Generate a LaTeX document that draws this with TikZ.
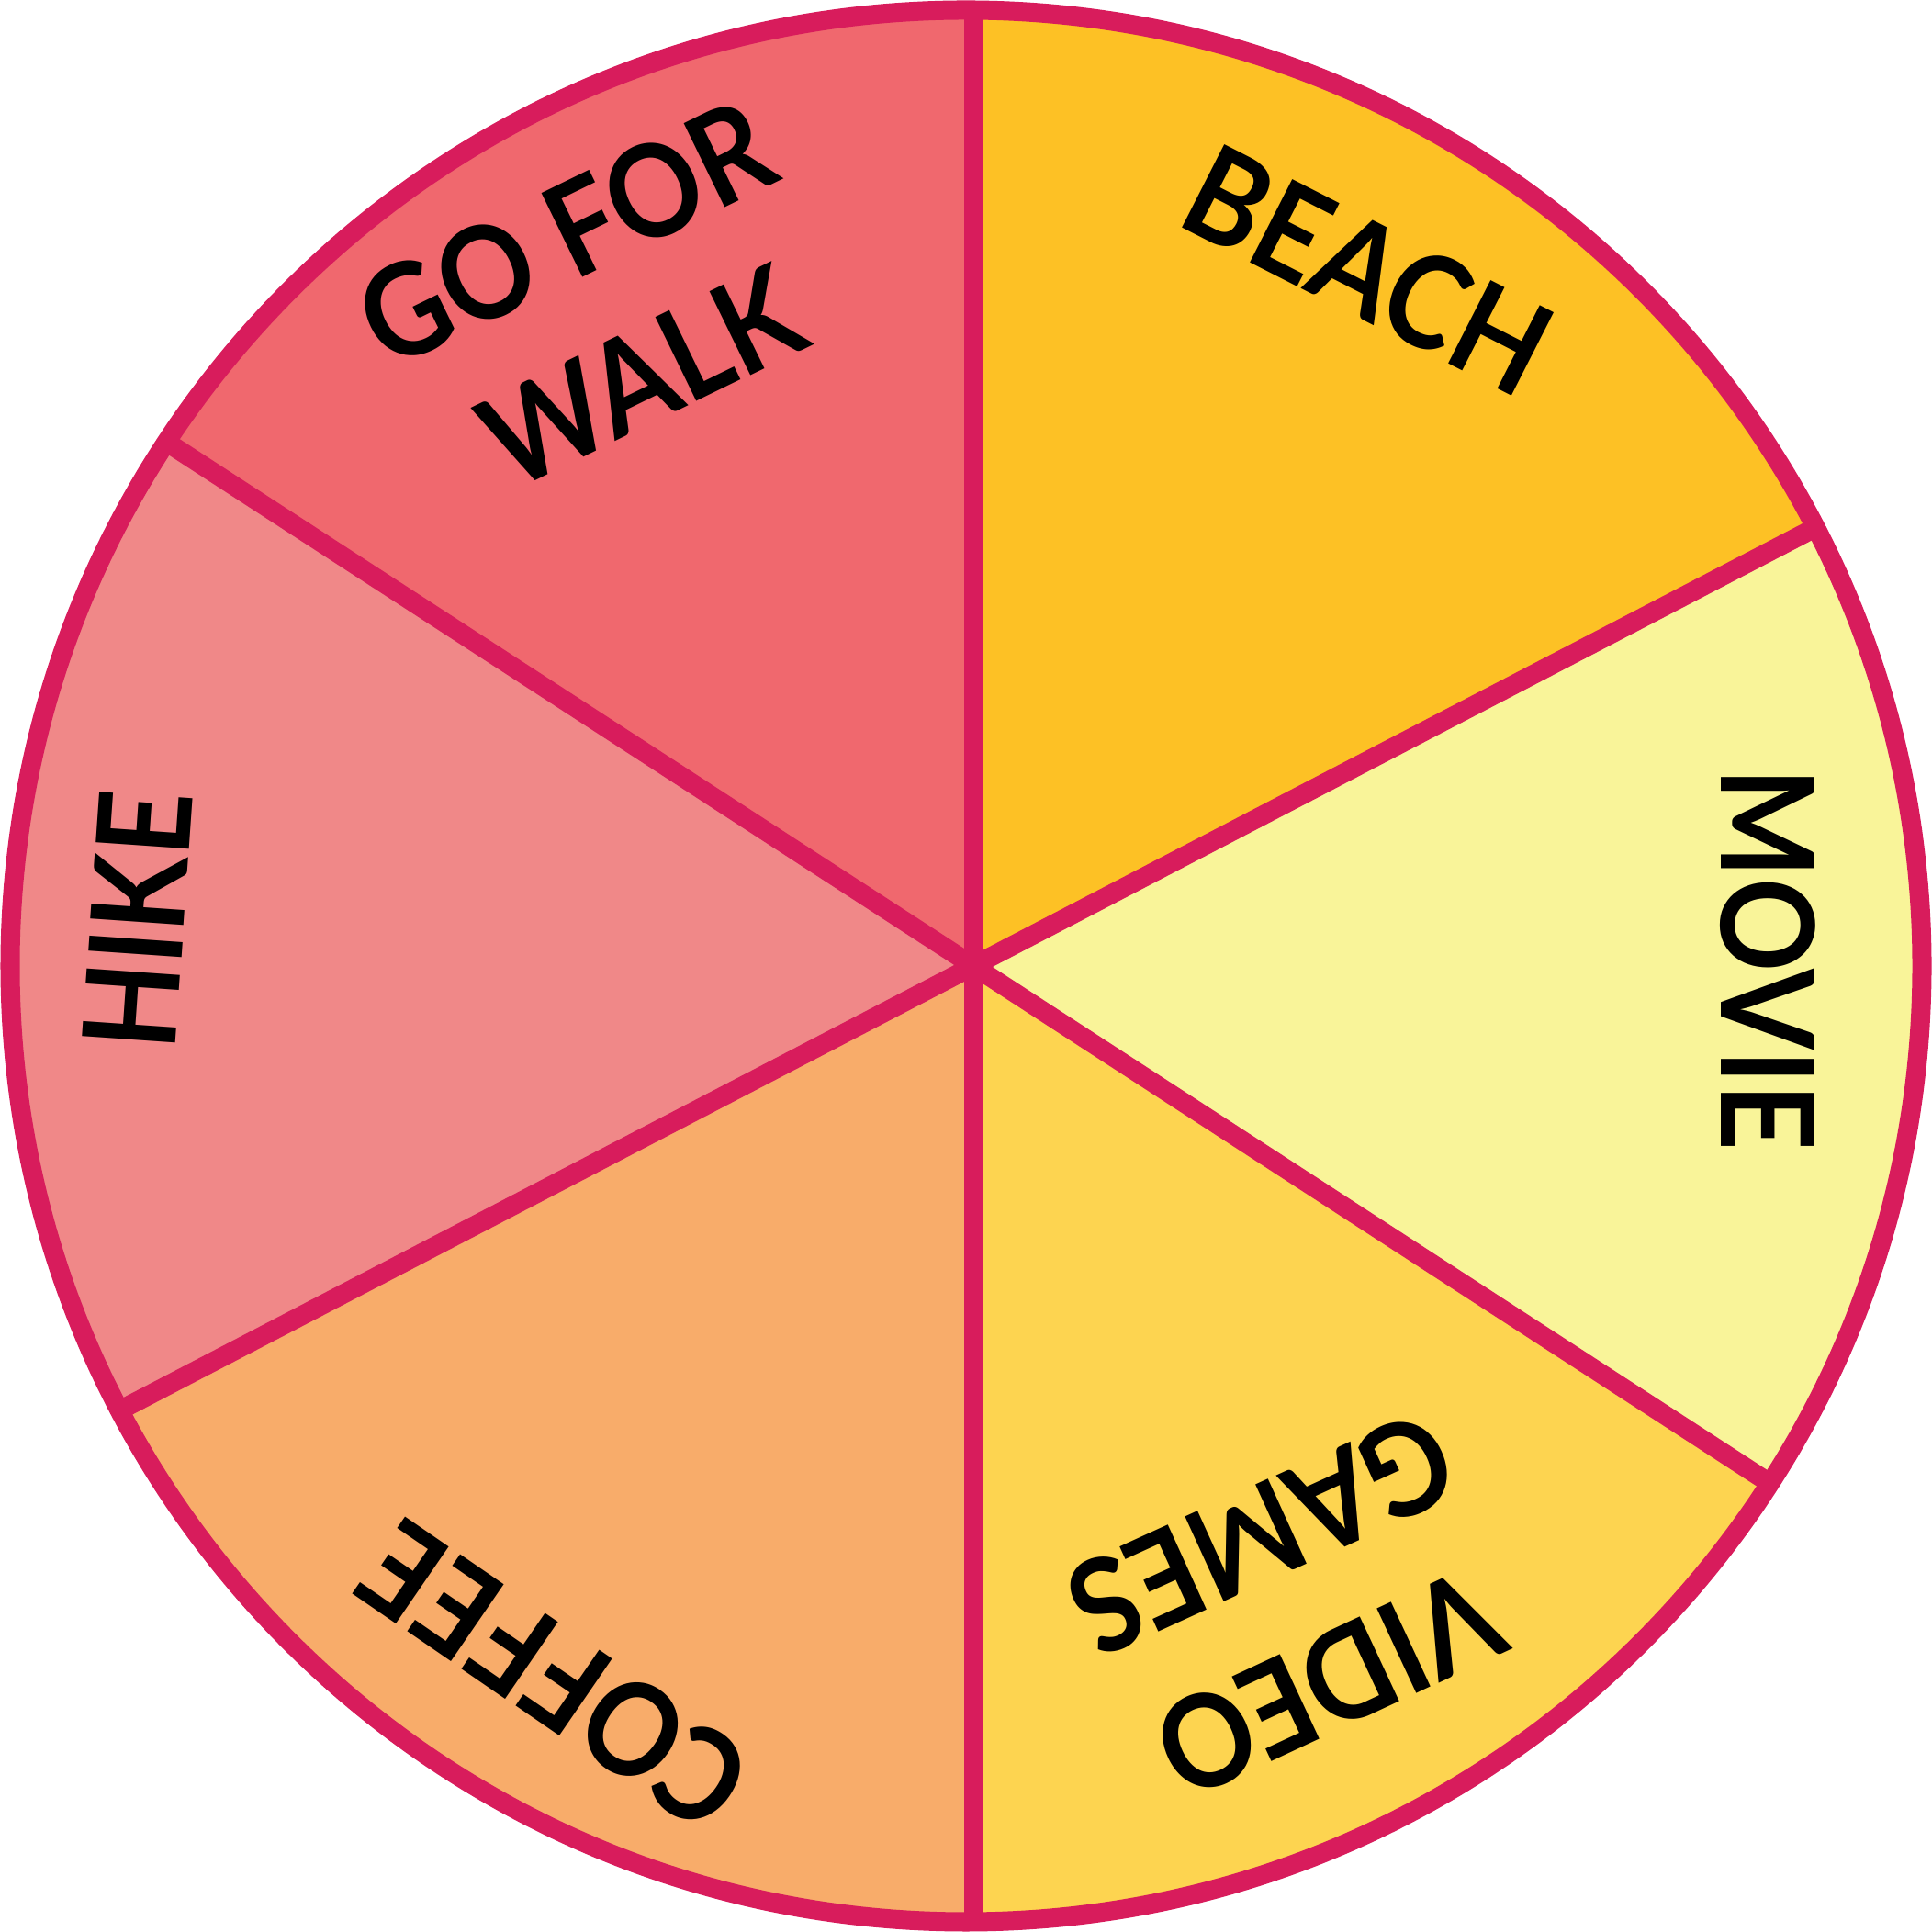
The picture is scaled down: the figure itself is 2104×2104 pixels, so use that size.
\documentclass[tikz,border=0pt]{standalone}
\usepackage{fontspec}
\usepackage{graphicx}
\newfontfamily\labfont{Lato}
\newcommand\narrowtext[2][0.9]{\scalebox{#1}[1]{#2}}
\definecolor{rim}{HTML}{D81C5C}
\definecolor{cwalk}{HTML}{F0686E}
\definecolor{cbeach}{HTML}{FDC125}
\definecolor{cmovie}{HTML}{F9F499}
\definecolor{cgames}{HTML}{FDD450}
\definecolor{ccoffee}{HTML}{F8AC6A}
\definecolor{chike}{HTML}{F08888}
\tikzset{
  lab/.style={inner sep=0pt, text=black, font=\labfont\bfseries\fontsize{40}{48}\selectfont},
  rimline/.style={draw=rim, line width=0.21cm},
}
\begin{document}
\begin{tikzpicture}[x=0.01cm,y=0.01cm]
\useasboundingbox (0,0) rectangle (2104,2104);
\coordinate (O) at (1052,1052);
\coordinate (X) at (1060,1052);
\begin{scope}
  \clip (O) circle[radius=1041];
  \begin{scope}[shift={(X)}]
    \fill[cbeach]  (0,0) -- (27.5:1300) arc[start angle=27.5,end angle=90,radius=1300] -- cycle;
    \fill[cwalk]   (0,0) -- (90:1300) arc[start angle=90,end angle=147,radius=1300] -- cycle;
    \fill[chike]   (0,0) -- (147:1300) arc[start angle=147,end angle=207.5,radius=1300] -- cycle;
    \fill[ccoffee] (0,0) -- (207.5:1300) arc[start angle=207.5,end angle=270,radius=1300] -- cycle;
    \fill[cgames]  (0,0) -- (270:1300) arc[start angle=270,end angle=327,radius=1300] -- cycle;
    \fill[cmovie]  (0,0) -- (327:1300) arc[start angle=327,end angle=387.5,radius=1300] -- cycle;
    \draw[rimline] (90:1300) -- (270:1300);
    \draw[rimline] (27.5:1300) -- (207.5:1300);
    \draw[rimline] (147:1300) -- (327:1300);
  \end{scope}
\end{scope}
\draw[rimline] (O) circle[radius=1041];
\node[lab, rotate=26] (gofor) at (616,1850) {\narrowtext{GO FOR}};
\node[lab, rotate=26] (walk) at (699,1694) {\narrowtext{WALK}};
\node[lab, rotate=-27] (beach) at (1490,1810) {\narrowtext{BEACH}};
\node[lab, rotate=-90] (movie) at (1925,1059) {\narrowtext{MOVIE}};
\node[lab, rotate=86] (hike) at (150,1102) {\narrowtext[0.86]{HIKE}};
\node[lab, rotate=145.5] (coffee) at (604,279) {\narrowtext{COFFEE}};
\node[lab, rotate=205] (video) at (1447,271) {\narrowtext{VIDEO}};
\node[lab, rotate=204.5] (games) at (1374,434) {\narrowtext{GAMES}};
\end{tikzpicture}
\end{document}
